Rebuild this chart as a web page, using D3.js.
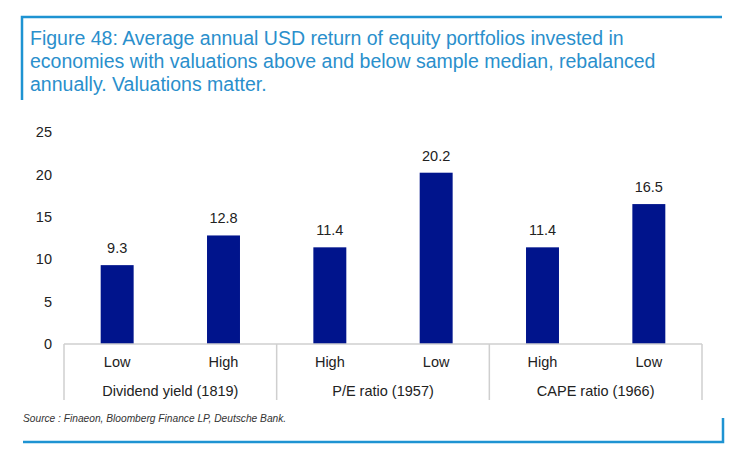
<!DOCTYPE html>
<html>
<head>
<meta charset="utf-8">
<script src="https://cdn.jsdelivr.net/npm/d3@7"></script>
<style>
  html, body { margin: 0; padding: 0; background: #fff; }
  svg { display: block; font-family: "Liberation Sans", Arial, sans-serif; }
</style>
</head>
<body>
<div id="chart"></div>
<script>
// chart data
const groups = ["Dividend yield (1819)", "P/E ratio (1957)", "CAPE ratio (1966)"];
const categories = ["Low", "High", "High", "Low", "High", "Low"];
const categoryGroup = [0, 0, 1, 1, 2, 2];
const values = [9.3, 12.8, 11.4, 20.2, 11.4, 16.5];
const yTicks = [0, 5, 10, 15, 20, 25];
const titleLines = [
  "Figure 48: Average annual USD return of equity portfolios invested in",
  "economies with valuations above and below sample median, rebalanced",
  "annually. Valuations matter."
];
const sourceText = "Source : Finaeon, Bloomberg Finance LP, Deutsche Bank.";

const W = 752, H = 459;
const frameBlue = "#1e93d2";
const titleBlue = "#2a8fcc";
const barColor = "#00148c";
const axisGrey = "#cfcfcf";

const svg = d3.select("#chart").append("svg")
  .attr("width", W).attr("height", H);

// frame: top + left bracket around the title
svg.append("path")
  .attr("d", "M22,100 V17 H722")
  .attr("fill", "none").attr("stroke", frameBlue).attr("stroke-width", 2.5);
// bottom + right bracket under the source
svg.append("path")
  .attr("d", "M23,442 H723 V418")
  .attr("fill", "none").attr("stroke", frameBlue).attr("stroke-width", 2.5);

const title = svg.append("text")
  .attr("fill", titleBlue)
  .attr("font-size", 19.5);
title.selectAll("tspan").data(titleLines).join("tspan")
  .attr("x", 30)
  .attr("y", (d, i) => 45 + i * 23)
  .text(d => d);

// plot area
const x0 = 64, x1 = 702, yTop = 132, yBase = 344;
const x = d3.scaleBand()
  .domain(d3.range(categories.length))
  .range([x0, x1])
  .paddingInner(0.69)
  .paddingOuter(0.345);
const y = d3.scaleLinear().domain([0, 25]).range([yBase, yTop]);

// y axis: labels only
const yAxis = svg.append("g")
  .attr("transform", `translate(${x0 - 12},0)`)
  .call(d3.axisLeft(y).tickValues(yTicks).tickSize(0).tickPadding(0));
yAxis.select(".domain").remove();
yAxis.selectAll("text")
  .attr("font-family", "Liberation Sans, Arial, sans-serif")
  .attr("font-size", 14.5)
  .attr("fill", "#222");

// bars
svg.append("g").selectAll("rect").data(values).join("rect")
  .attr("x", (d, i) => x(i))
  .attr("y", d => y(d))
  .attr("width", x.bandwidth())
  .attr("height", d => yBase - y(d))
  .attr("fill", barColor);

// value labels
svg.append("g").selectAll("text").data(values).join("text")
  .attr("x", (d, i) => x(i) + x.bandwidth() / 2)
  .attr("y", d => y(d) - 12)
  .attr("text-anchor", "middle")
  .attr("font-size", 14.5)
  .attr("fill", "#222")
  .text(d => d.toFixed(1));

// category axis with group separators
const groupWidth = (x1 - x0) / groups.length;
const gx = svg.append("g").attr("stroke", axisGrey).attr("stroke-width", 1.5);
gx.append("line").attr("x1", x0).attr("x2", x1).attr("y1", yBase).attr("y2", yBase);
gx.selectAll("line.sep").data(d3.range(groups.length + 1)).join("line")
  .attr("class", "sep")
  .attr("x1", i => x0 + i * groupWidth).attr("x2", i => x0 + i * groupWidth)
  .attr("y1", yBase).attr("y2", 400);

svg.append("g").selectAll("text").data(categories).join("text")
  .attr("x", (d, i) => x(i) + x.bandwidth() / 2)
  .attr("y", 367)
  .attr("text-anchor", "middle")
  .attr("font-size", 14.5)
  .attr("fill", "#222")
  .text(d => d);

svg.append("g").selectAll("text").data(groups).join("text")
  .attr("x", (d, i) => x0 + (i + 0.5) * groupWidth)
  .attr("y", 396)
  .attr("text-anchor", "middle")
  .attr("font-size", 14.5)
  .attr("fill", "#222")
  .text(d => d);

// source note
svg.append("text")
  .attr("x", 23).attr("y", 422)
  .attr("font-size", 10.2)
  .attr("font-style", "italic")
  .attr("fill", "#333")
  .text(sourceText);
</script>
</body>
</html>
